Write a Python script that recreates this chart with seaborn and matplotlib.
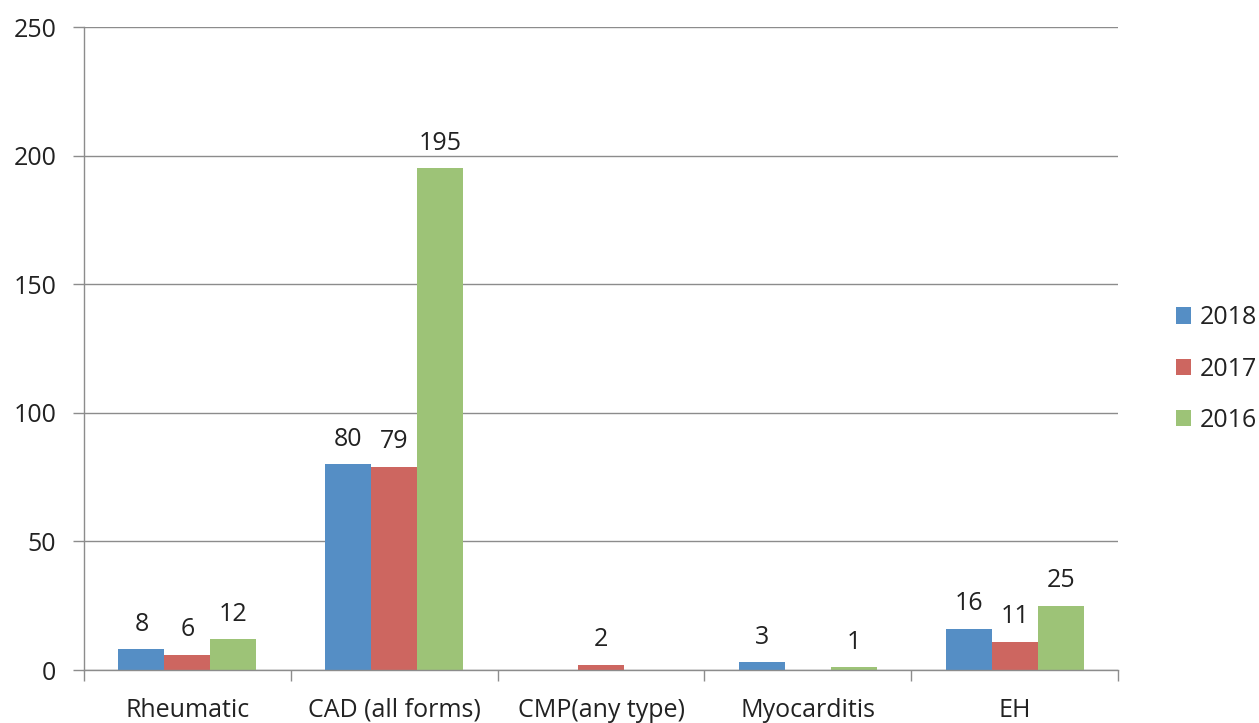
import matplotlib
matplotlib.use("Agg")
import matplotlib.pyplot as plt
import matplotlib.patches as mpatches
import seaborn as sns
import pandas as pd

categories = ["Rheumatic", "CAD (all forms)", "CMP(any type)", "Myocarditis", "EH"]
years = ["2018", "2017", "2016"]
values_2018 = [8, 80, 0, 3, 16]
values_2017 = [6, 79, 2, 0, 11]
values_2016 = [12, 195, 0, 1, 25]
y_ticks = [0, 50, 100, 150, 200, 250]

colors = ["#558ec5", "#cd6660", "#9dc377"]
grid_color = "#8c8c8c"

rows = []
for year, vals in zip(years, [values_2018, values_2017, values_2016]):
    for cat, v in zip(categories, vals):
        rows.append({"category": cat, "year": year, "value": v})
df = pd.DataFrame(rows)

sns.set_style("white")
plt.rcParams["font.family"] = ["Open Sans", "DejaVu Sans"]
FS = 18

fig = plt.figure(figsize=(12.59, 7.23), dpi=100)
ax = fig.add_axes([84 / 1259, 1 - 670 / 723, (1118 - 84) / 1259, (670 - 27) / 723])

sns.barplot(data=df, x="category", y="value", hue="year", order=categories,
            hue_order=years, palette=colors, width=0.667, linewidth=0,
            saturation=1, ax=ax, legend=False)

for container, vals in zip(ax.containers, [values_2018, values_2017, values_2016]):
    labels = [f"{v:g}" if v else "" for v in vals]
    ax.bar_label(container, labels=labels, padding=9, fontsize=FS, color="#222222")

ax.set_xlim(-0.5, len(categories) - 0.5)
ax.set_ylim(0, 250)
ax.set_yticks(y_ticks)
ax.yaxis.grid(True, color=grid_color, linewidth=1)
ax.set_axisbelow(True)
ax.set_xlabel("")
ax.set_ylabel("")

for side in ["top", "right"]:
    ax.spines[side].set_visible(False)
for side in ["left", "bottom"]:
    ax.spines[side].set_color(grid_color)
    ax.spines[side].set_linewidth(1)

ax.tick_params(axis="y", length=8, color=grid_color, width=1, pad=12,
               labelsize=FS, labelcolor="#222222", left=True)
ax.tick_params(axis="x", which="major", length=0, pad=20,
               labelsize=FS, labelcolor="#222222")
ax.set_xticks([i - 0.5 for i in range(len(categories) + 1)], minor=True)
ax.tick_params(axis="x", which="minor", length=8, color=grid_color, width=1,
               bottom=True)

handles = [mpatches.Patch(facecolor=c, edgecolor="none", label=y)
           for c, y in zip(colors, years)]
fig.legend(handles=handles, loc="center left", bbox_to_anchor=(1163 / 1259, 1 - 369 / 723),
           frameon=False, fontsize=FS, handlelength=0.62, handleheight=0.62,
           handletextpad=0.35, labelspacing=1.05, borderpad=0, labelcolor="#222222")

fig.savefig("out.png", dpi=100)
